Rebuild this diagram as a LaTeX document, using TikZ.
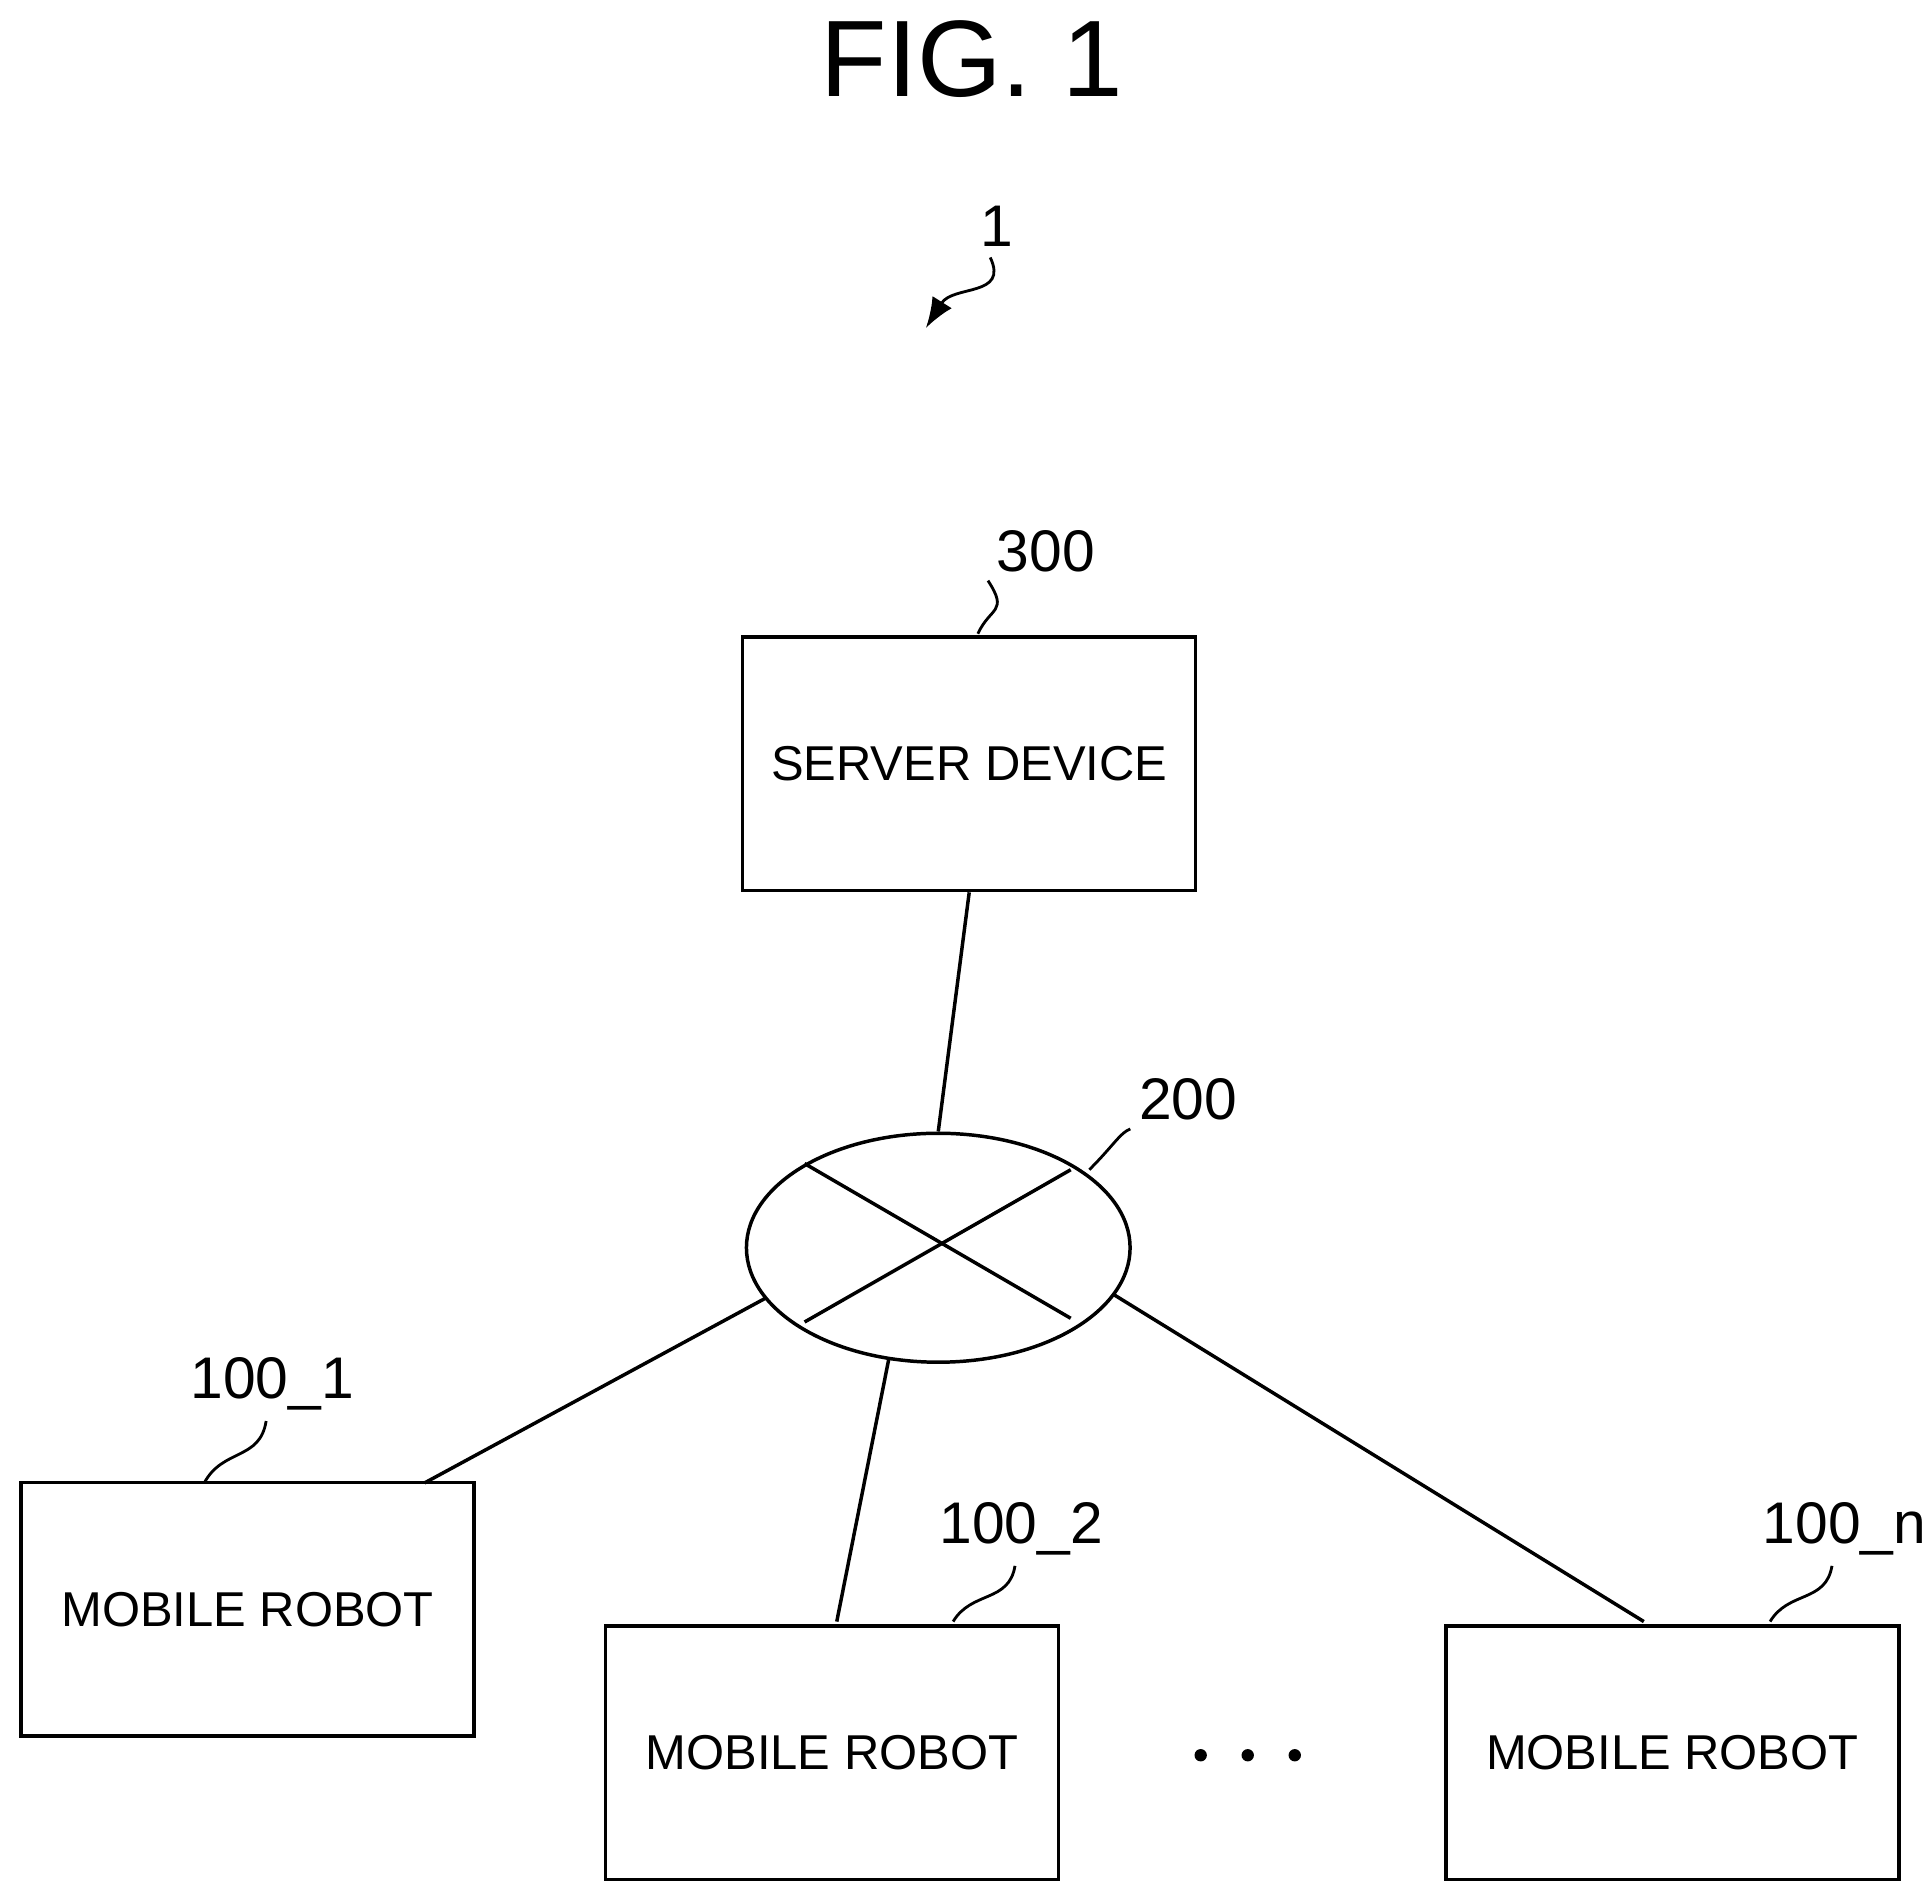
\documentclass[tikz,border=0pt]{standalone}
\usepackage{fontspec}
\setmainfont{Liberation Sans}
\usetikzlibrary{arrows.meta,shapes.geometric}
\begin{document}
\begin{tikzpicture}[x=0.02cm,y=-0.02cm,line width=1.6pt,
  box/.style={draw,minimum width=7.32cm,minimum height=4.1cm,inner sep=0pt,font=\fontsize{22.5}{26}\selectfont},
  lbl/.style={font=\fontsize{27}{30}\selectfont},
  lead/.style={line width=1.3pt}]
\useasboundingbox (0,0) rectangle (1560,1532);
\node[font=\fontsize{50}{56}\selectfont] (fig) at (785,48) {FIG. 1};
\node[lbl] (one) at (805,183) {1};
\coordinate (oneA) at (800,208);
\coordinate (oneB) at (748,265);
\draw[lead,-{Latex[length=14pt]}] (oneA) .. controls (815,240) and (770,230) .. (oneB);
\node[box] (srv) at (783,617) {SERVER DEVICE};
\node[lbl] (l300) at (845,445) {300};
\draw[lead] (790,512) .. controls (800,490) and (815,495) .. (l300.south west);
\node[draw,ellipse,minimum width=6.2cm,minimum height=3.7cm,inner sep=0pt] (net) at (758,1008) {};
\draw (650,940) -- (865,1065);
\draw (650,1068) -- (865,945);
\node[lbl] (l200) at (960,888) {200};
\draw[lead] (880,945) .. controls (900,925) and (905,915) .. (l200.south west);
\draw (srv.south) -- (net.north);
\node[box] (r1) at (200,1300) {MOBILE ROBOT};
\node[box] (r2) at (672,1416) {MOBILE ROBOT};
\node[box] (rn) at (1351,1416) {MOBILE ROBOT};
\node[lbl] (l1) at (220,1118) {100\_1};
\node[lbl] (l2) at (825,1235) {100\_2};
\node[lbl] (ln) at (1490,1235) {100\_n};
\draw[lead] (165,1198) .. controls (180,1170) and (210,1180) .. (215,1148);
\draw[lead] (770,1310) .. controls (785,1285) and (815,1295) .. (820,1265);
\draw[lead] (1430,1310) .. controls (1445,1285) and (1475,1295) .. (1480,1265);
\coordinate (eL) at (618,1049);
\coordinate (eB) at (718,1098);
\coordinate (eR) at (900,1046);
\draw (eL) -- (343,1198);
\draw (eB) -- (676,1310);
\draw (eR) -- (1328,1310);
\foreach \x in {970,1008,1046} \fill (\x,1418) circle (5);
\end{tikzpicture}
\end{document}
